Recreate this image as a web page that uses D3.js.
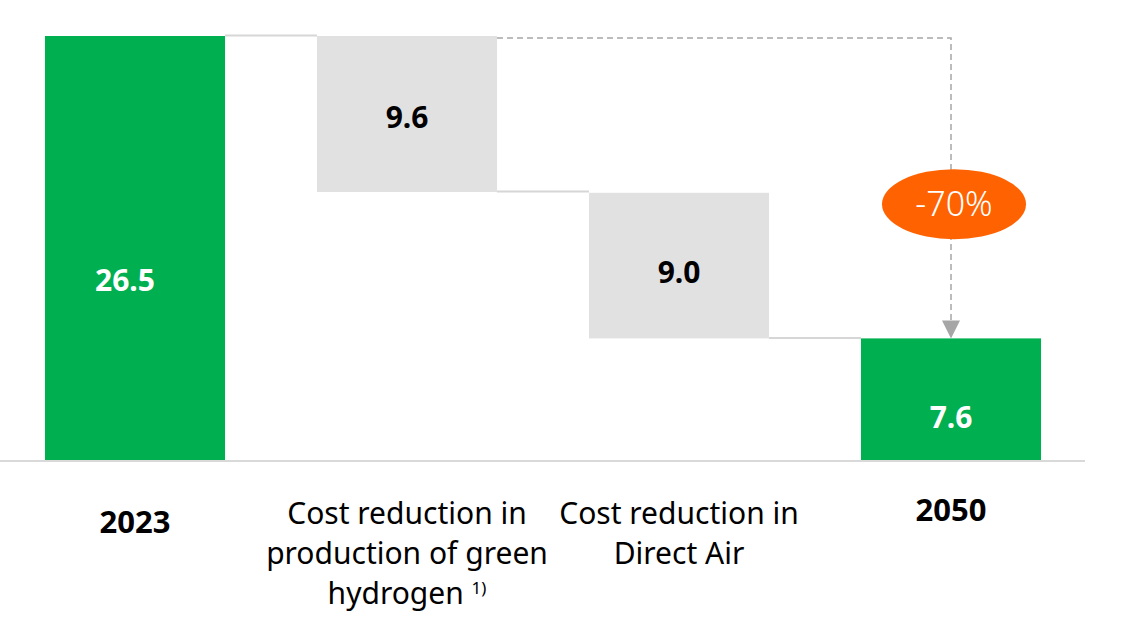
<!DOCTYPE html>
<html lang="en">
<head>
    <meta charset="UTF-8">
    <title>Cost reduction 2023 to 2050</title>
    <script src="https://d3js.org/d3.v7.min.js"></script>
    <style>
        body, html {
            margin: 0;
            padding: 0;
            background: #fff;
            font-family: "Noto Sans", "Open Sans", sans-serif;
        }
        #chart { width: 1122px; height: 631px; }
    </style>
</head>
<body>
    <div id="chart"></div>
    <script>
        // data
        const categories = ["2023", "Cost reduction in production of green hydrogen", "Cost reduction in Direct Air", "2050"];
        const labelLines = [["2023"], ["Cost reduction in", "production of green", "hydrogen"], ["Cost reduction in", "Direct Air"], ["2050"]];
        const barKinds = ["total", "delta", "delta", "total"];
        const barValues = [26.5, 9.6, 9.0, 7.6];
        const barFrom = [0, 26.5, 16.7, 0];
        const barTo = [26.5, 16.75, 7.6, 7.6];
        const changeLabel = "-70%";

        const W = 1122, H = 631;
        const baseY = 460, topY = 36;

        const svg = d3.select("#chart").append("svg")
            .attr("width", W)
            .attr("height", H);

        const x = d3.scaleBand()
            .domain(categories)
            .range([-1, 1087])
            .paddingInner(0.338)
            .paddingOuter(0.169);

        const y = d3.scaleLinear()
            .domain([0, 26.5])
            .range([baseY, topY]);

        const bars = categories.map((c, i) => ({
            cat: c, kind: barKinds[i], value: barValues[i],
            lo: Math.min(barFrom[i], barTo[i]), hi: Math.max(barFrom[i], barTo[i])
        }));

        // connector lines between bars
        for (let i = 0; i < bars.length - 1; i++) {
            svg.append("line")
                .attr("x1", x(categories[i]) + x.bandwidth())
                .attr("x2", x(categories[i + 1]))
                .attr("y1", y(barTo[i]) - 0.5)
                .attr("y2", y(barTo[i]) - 0.5)
                .attr("stroke", "#d6d6d6")
                .attr("stroke-width", 2);
        }

        svg.selectAll(".bar")
            .data(bars)
            .enter().append("rect")
            .attr("class", "bar")
            .attr("x", d => x(d.cat))
            .attr("width", x.bandwidth())
            .attr("y", d => y(d.hi))
            .attr("height", d => y(d.lo) - y(d.hi))
            .attr("fill", d => d.kind === "total" ? "#00af50" : "#e1e1e1");

        // baseline
        svg.append("line")
            .attr("x1", 0).attr("x2", 1085)
            .attr("y1", baseY + 1).attr("y2", baseY + 1)
            .attr("stroke", "#d9d9d9")
            .attr("stroke-width", 2);

        // value labels
        const labelShift = [32, 3, 7, 18];
        svg.selectAll(".val")
            .data(bars)
            .enter().append("text")
            .attr("class", "val")
            .attr("x", (d, i) => x(d.cat) + x.bandwidth() / 2 - (i === 0 ? 10 : 0))
            .attr("y", (d, i) => (y(d.lo) + y(d.hi)) / 2 + labelShift[i])
            .attr("dy", "0.36em")
            .attr("text-anchor", "middle")
            .attr("font-size", 30)
            .attr("font-weight", "bold")
            .attr("fill", d => d.kind === "total" ? "#fff" : "#000")
            .text(d => d3.format(".1f")(d.value));

        // category labels
        categories.forEach((c, i) => {
            const lines = labelLines[i];
            const cx = x(c) + x.bandwidth() / 2;
            const bold = barKinds[i] === "total";
            const startY = bold ? (i === 0 ? 522 : 510) : 513;
            const t = svg.append("text")
                .attr("text-anchor", "middle")
                .attr("font-size", bold ? 31 : 30)
                .attr("font-weight", bold ? "bold" : "normal")
                .attr("fill", "#000");
            lines.forEach((ln, j) => {
                const ts = t.append("tspan")
                    .attr("x", cx)
                    .attr("y", startY + j * 40)
                    .attr("dy", "0.36em")
                    .text(ln);
                if (i === 1 && j === lines.length - 1) {
                    ts.text(ln + " ");
                    t.append("tspan")
                        .attr("font-size", 17)
                        .attr("dy", "-0.55em")
                        .text("1)");
                }
            });
        });

        // dashed arrow from the first reduction to 2050
        const ax = x(categories[3]) + x.bandwidth() / 2;
        const ay = y(26.5) + 2;
        const ey = y(barTo[3]);
        svg.append("path")
            .attr("d", `M${x(categories[1]) + x.bandwidth()},${ay} H${ax} V${ey - 16}`)
            .attr("fill", "none")
            .attr("stroke", "#a6a6a6")
            .attr("stroke-width", 1.5)
            .attr("stroke-dasharray", "6,4");
        svg.append("path")
            .attr("d", `M${ax - 9},${ey - 18} L${ax + 9},${ey - 18} L${ax},${ey} Z`)
            .attr("fill", "#a6a6a6");

        // -70% bubble
        const by = (ay + ey) / 2 + 16;
        svg.append("ellipse")
            .attr("cx", ax + 3)
            .attr("cy", by)
            .attr("rx", 72)
            .attr("ry", 35)
            .attr("fill", "#ff6200");
        svg.append("text")
            .attr("x", ax + 3)
            .attr("y", by)
            .attr("dy", "0.36em")
            .attr("text-anchor", "middle")
            .attr("font-size", 34)
            .attr("font-weight", 300)
            .attr("fill", "#fff")
            .text(changeLabel);
    </script>
</body>
</html>
